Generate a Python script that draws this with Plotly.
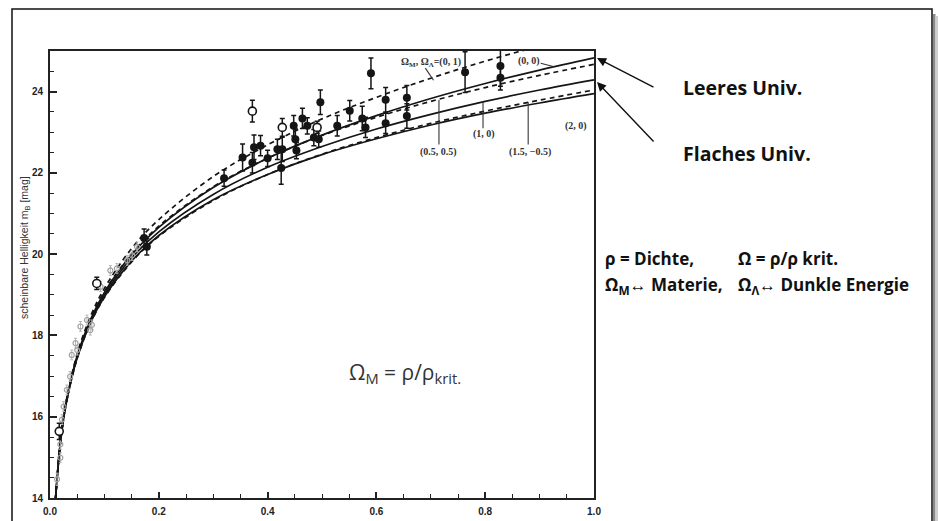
import plotly.graph_objects as go

# ---------------- data ----------------
z_grid = [0.01, 0.02, 0.03, 0.05, 0.075, 0.1, 0.15, 0.2, 0.3, 0.4, 0.5, 0.6, 0.7, 0.8, 0.9, 1.0]

m_0_1 = [13.97, 15.50, 16.40, 17.55, 18.49, 19.16, 20.14, 20.85, 21.91, 22.69, 23.33, 23.86, 24.33, 24.75, 25.12, 25.45]
m_0_0 = [13.96, 15.48, 16.37, 17.50, 18.41, 19.06, 19.99, 20.66, 21.64, 22.36, 22.93, 23.41, 23.83, 24.20, 24.53, 24.83]
m_05_05 = [13.96, 15.48, 16.38, 17.51, 18.42, 19.08, 20.01, 20.69, 21.66, 22.36, 22.92, 23.37, 23.76, 24.10, 24.40, 24.67]
m_1_0 = [13.96, 15.47, 16.35, 17.47, 18.36, 19.00, 19.91, 20.55, 21.47, 22.14, 22.65, 23.08, 23.44, 23.76, 24.04, 24.29]
m_15_m05 = [13.95, 15.45, 16.33, 17.43, 18.31, 18.93, 19.81, 20.44, 21.32, 21.96, 22.46, 22.87, 23.22, 23.52, 23.79, 24.04]
m_2_0 = [13.95, 15.46, 16.34, 17.45, 18.33, 18.95, 19.83, 20.46, 21.34, 21.96, 22.45, 22.84, 23.18, 23.47, 23.72, 23.95]

# high-redshift supernovae (filled)
z_fill = [0.173, 0.178, 0.320, 0.354, 0.372, 0.375, 0.387, 0.400, 0.418, 0.427, 0.425,
          0.448, 0.451, 0.453, 0.464, 0.473, 0.485, 0.497, 0.494, 0.528, 0.551, 0.574,
          0.580, 0.590, 0.617, 0.617, 0.656, 0.656, 0.763, 0.828, 0.828]
m_fill = [20.40, 20.18, 21.87, 22.38, 22.25, 22.63, 22.67, 22.36, 22.58, 22.58, 22.12,
          23.16, 22.83, 22.55, 23.34, 23.16, 22.87, 23.74, 22.83, 23.16, 23.53, 23.34,
          23.12, 24.45, 23.80, 23.22, 23.85, 23.40, 24.48, 24.63, 24.34]
e_fill = [0.22, 0.20, 0.20, 0.33, 0.25, 0.30, 0.25, 0.20, 0.25, 0.30, 0.40,
          0.25, 0.25, 0.20, 0.25, 0.20, 0.20, 0.30, 0.20, 0.25, 0.25, 0.30,
          0.25, 0.38, 0.30, 0.25, 0.30, 0.30, 0.50, 0.50, 0.30]

# open circles
z_open = [0.017, 0.086, 0.372, 0.427, 0.491]
m_open = [15.64, 19.28, 23.52, 23.12, 23.12]
e_open = [0.20, 0.15, 0.27, 0.22, 0.15]

# low-redshift (grey) supernovae
z_low = [0.013, 0.019, 0.019, 0.022, 0.025, 0.031, 0.037, 0.040, 0.047, 0.050, 0.056,
         0.068, 0.074, 0.077, 0.093, 0.111, 0.123, 0.142, 0.151, 0.160]
m_low = [14.46, 14.99, 15.32, 15.93, 16.25, 16.66, 16.99, 17.52, 17.81, 17.64, 18.22,
         18.38, 18.13, 18.26, 19.20, 19.60, 19.65, 19.85, 19.97, 20.18]
e_low = [0.15, 0.12, 0.12, 0.12, 0.12, 0.12, 0.12, 0.12, 0.12, 0.12, 0.12,
         0.12, 0.12, 0.12, 0.12, 0.12, 0.12, 0.12, 0.12, 0.12]

x_ticks = [0.0, 0.2, 0.4, 0.6, 0.8, 1.0]
x_ticklabels = ["0.0", "0.2", "0.4", "0.6", "0.8", "1.0"]
y_ticks = [14, 16, 18, 20, 22, 24]
y_ticklabels = ["14", "16", "18", "20", "22", "24"]

# ---------------- figure ----------------
W, H = 938, 521
L, R, T, B = 50, 344, 51, 23
pw, ph = W - L - R, H - T - B


def px(x):
    """image x pixel -> paper coordinate"""
    return (x - L) / pw


def py(y):
    """image y pixel -> paper coordinate"""
    return (H - B - y) / ph


fig = go.Figure()

ink = "#151515"
curves = [
    (m_0_1, "dash"),
    (m_0_0, "solid"),
    (m_05_05, "dash"),
    (m_1_0, "solid"),
    (m_15_m05, "dash"),
    (m_2_0, "solid"),
]
for m, dash in curves:
    fig.add_trace(go.Scatter(x=z_grid, y=m, mode="lines", line_shape="spline",
                             line=dict(color=ink, width=1.7, dash="solid" if dash == "solid" else "5px,4px"),
                             hoverinfo="skip", showlegend=False))

fig.add_trace(go.Scatter(x=z_low, y=m_low, mode="markers",
                         error_y=dict(type="data", array=e_low, color="#b5b5b5", thickness=1, width=1.5),
                         marker=dict(symbol="circle-open", size=5, color="#a0a0a0", line=dict(width=1.2)),
                         showlegend=False))

fig.add_trace(go.Scatter(x=z_fill, y=m_fill, mode="markers",
                         error_y=dict(type="data", array=e_fill, color=ink, thickness=1.5, width=2.5),
                         marker=dict(symbol="circle", size=8, color=ink),
                         showlegend=False))

fig.add_trace(go.Scatter(x=z_open, y=m_open, mode="markers",
                         error_y=dict(type="data", array=e_open, color=ink, thickness=1.5, width=2.5),
                         marker=dict(symbol="circle", size=8, color="white", line=dict(color=ink, width=1.6)),
                         showlegend=False))

lab_font = dict(family="Liberation Serif", size=10, color="#333", weight="bold")
ann = []
# curve labels
for x, y, t in [(0.70, 24.72, "Ω<sub>M</sub>, Ω<sub>Λ</sub>=(0, 1)"), (0.880, 24.76, "(0, 0)"),
                (0.715, 22.52, "(0.5, 0.5)"), (0.798, 22.95, "(1, 0)"),
                (0.883, 22.52, "(1.5, −0.5)"), (0.966, 23.15, "(2, 0)")]:
    ann.append(dict(x=x, y=y, text=t, showarrow=False, font=lab_font,
                    xanchor="center", yanchor="middle"))

ann.append(dict(x=px(405), y=py(373), xref="paper", yref="paper", showarrow=False,
                xanchor="center", yanchor="middle",
                text="Ω<sub>M</sub> = ρ/ρ<sub>krit.</sub>",
                font=dict(family="Open Sans", size=21, color="#333")))

ann.append(dict(x=px(25), y=py(248), xref="paper", yref="paper", showarrow=False, textangle=-90,
                xanchor="center", yanchor="middle",
                text="scheinbare Helligkeit m<sub>B</sub> [mag]",
                font=dict(family="Liberation Sans", size=10.5, color="#333")))

bold = dict(family="Open Sans", size=19.5, color="#111", weight="bold")
for y, t in [(87, "Leeres Univ."), (153, "Flaches Univ.")]:
    ann.append(dict(x=px(681), y=py(y), xref="paper", yref="paper", xanchor="left", yanchor="middle",
                    showarrow=False, text=t, font=bold))

small_bold = dict(family="Open Sans", size=17, color="#111", weight="bold")
for x, y, t in [(603, 258, "ρ = Dichte,"), (736, 258, "Ω = ρ/ρ krit."),
                (603, 285, "Ω<sub>M</sub>↔ Materie,"), (736, 285, "Ω<sub>Λ</sub>↔ Dunkle Energie")]:
    ann.append(dict(x=px(x), y=py(y), xref="paper", yref="paper", xanchor="left", yanchor="middle",
                    showarrow=False, text=t, font=small_bold))

# arrows
for hy, ty in [(58, 88), (82, 143)]:
    ann.append(dict(x=px(597), y=py(hy), xref="paper", yref="paper", text="", showarrow=True,
                    ax=58, ay=ty - hy, arrowhead=2, arrowsize=1.3, arrowwidth=1.4,
                    arrowcolor="#111", standoff=0))

shapes = []
# leader lines for curve labels
for x0, y0, x1, y1 in [(0.715, 23.80, 0.715, 22.70), (0.796, 23.74, 0.796, 23.10),
                       (0.879, 23.74, 0.879, 22.70), (0.902, 24.70, 0.925, 24.62),
                       (0.690, 24.58, 0.705, 24.28)]:
    shapes.append(dict(type="line", xref="x", yref="y", x0=x0, y0=y0, x1=x1, y1=y1,
                       line=dict(color="#333", width=1.1)))

# outer frame and shadow
shapes.append(dict(type="rect", xref="paper", yref="paper", x0=px(933), x1=px(935.5),
                   y0=py(540), y1=py(14), fillcolor="#8a8a8a", line=dict(width=0), layer="below"))
shapes.append(dict(type="rect", xref="paper", yref="paper", x0=px(935.5), x1=px(938),
                   y0=py(540), y1=py(16), fillcolor="#cfcfcf", line=dict(width=0), layer="below"))
shapes.append(dict(type="rect", xref="paper", yref="paper", x0=px(12), x1=px(932),
                   y0=py(540), y1=py(9), line=dict(color="#111", width=1.5)))

fig.update_layout(
    width=W, height=H,
    margin=dict(l=L, r=R, t=T, b=B, pad=0),
    paper_bgcolor="white", plot_bgcolor="white",
    annotations=ann, shapes=shapes, showlegend=False,
    xaxis=dict(range=[0, 1.0], tickvals=x_ticks, ticktext=x_ticklabels, automargin=False,
               showline=True, linecolor="#222", linewidth=1.8, mirror=True,
               ticks="inside", ticklen=6, tickwidth=1.5, tickcolor="#222",
               ticklabelstandoff=3,
               minor=dict(dtick=0.05, ticks="inside", ticklen=4, tickcolor="#222", tickwidth=1.2),
               showgrid=False, zeroline=False,
               tickfont=dict(family="Liberation Sans", size=10, color="#222", weight="bold")),
    yaxis=dict(range=[14, 25], tickvals=y_ticks, ticktext=y_ticklabels, automargin=False,
               showline=True, linecolor="#222", linewidth=1.8, mirror=True,
               ticks="inside", ticklen=7, tickwidth=1.5, tickcolor="#222",
               ticklabelstandoff=3,
               minor=dict(dtick=0.5, ticks="inside", ticklen=4, tickcolor="#222", tickwidth=1.2),
               showgrid=False, zeroline=False,
               tickfont=dict(family="Liberation Sans", size=10, color="#222", weight="bold")),
)

# the page's default 8px body margin would push the figure off the window
fig.write_html("out.html", config={"displayModeBar": False},
               post_script="document.body.style.margin='0px';")
